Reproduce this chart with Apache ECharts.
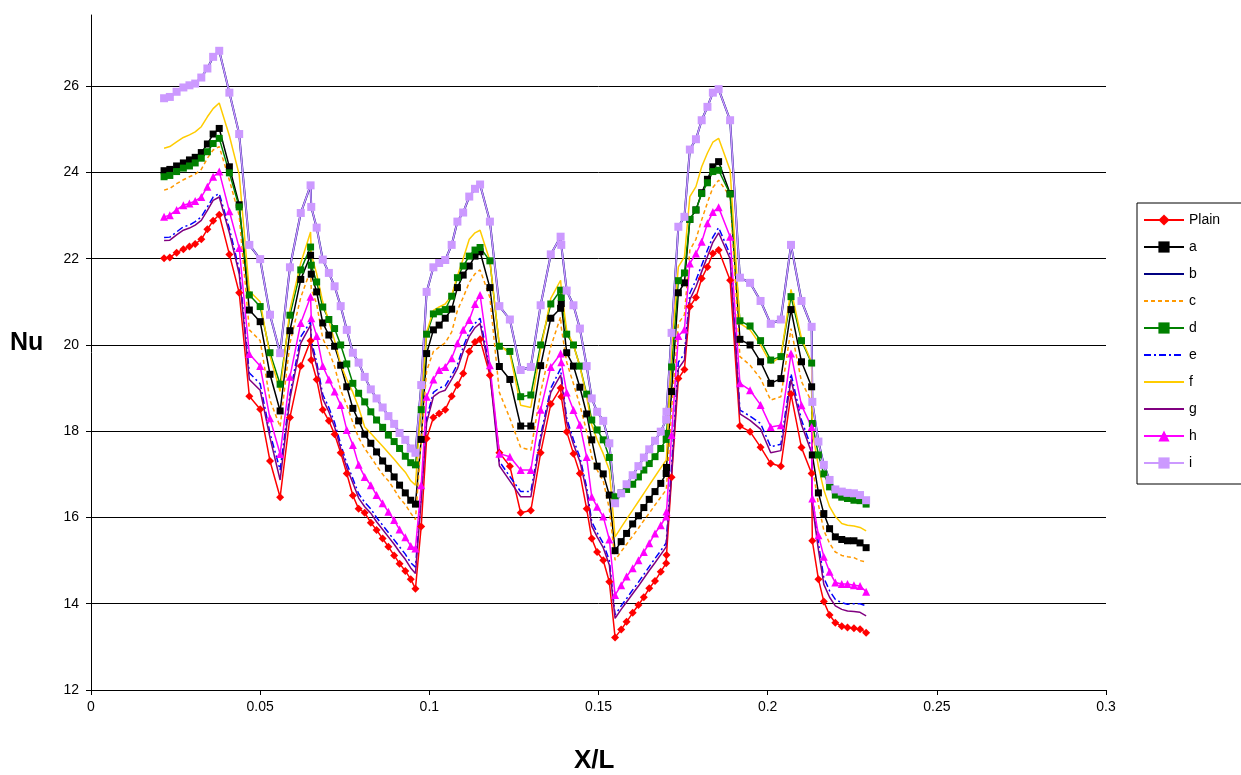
<!DOCTYPE html>
<html>
<head>
<meta charset="utf-8">
<title>Nu vs X/L</title>
<script src="https://cdn.jsdelivr.net/npm/echarts@6.0.0/dist/echarts.min.js"></script>
<style>
  html, body { margin: 0; padding: 0; background: #ffffff; }
  #chart { width: 1241px; height: 775px; }
</style>
</head>
<body>
<div id="chart"></div>
<script>
// X/L stations, shared by every series
var xL = [
  0.0216, 0.0233, 0.0253, 0.0273, 0.0291, 0.0308, 0.0326, 0.0344, 0.0361, 0.0379,
  0.0409, 0.0438, 0.0468, 0.0500, 0.0529, 0.0559, 0.0588, 0.0620, 0.0649, 0.0651,
  0.0667, 0.0685, 0.0703, 0.0720, 0.0738, 0.0756, 0.0774, 0.0791, 0.0809, 0.0827, 0.0844, 0.0862, 0.0879, 0.0896, 0.0912, 0.0929, 0.0945, 0.0959,
  0.0976, 0.0992, 0.1012, 0.1029, 0.1047, 0.1066, 0.1083, 0.1100, 0.1118, 0.1135, 0.1150, 0.1179, 0.1207, 0.1238, 0.1270, 0.1300, 0.1329, 0.1359, 0.1388, 0.1390, 0.1406, 0.1426, 0.1445, 0.1465, 0.1480, 0.1496, 0.1514, 0.1532, 0.1549,
  0.1567, 0.1583, 0.1601, 0.1618, 0.1634, 0.1650, 0.1667, 0.1684, 0.1700, 0.1701,
  0.1716, 0.1736, 0.1754, 0.1770, 0.1788, 0.1805, 0.1822, 0.1838, 0.1855, 0.1889,
  0.1918, 0.1948, 0.1979, 0.2009, 0.2039, 0.2069, 0.2100, 0.2130, 0.2132, 0.2150, 0.2166, 0.2183, 0.2200, 0.2219, 0.2236, 0.2255, 0.2273, 0.2291
];

var nuPlain = [
  22.01, 22.03, 22.14, 22.22, 22.28, 22.34, 22.45, 22.68, 22.88, 23.02,
  22.1, 21.21, 18.81, 18.51, 17.31, 16.47, 18.32, 19.51, 20.1, 19.65,
  19.2, 18.5, 18.24, 17.93, 17.5, 17.02, 16.51, 16.2, 16.11, 15.88, 15.71, 15.51, 15.32, 15.12, 14.93, 14.76, 14.57, 14.35,
  15.79, 17.83, 18.32, 18.41, 18.5, 18.81, 19.07, 19.34, 19.85, 20.07, 20.13, 19.3, 17.5, 17.19, 16.11, 16.16, 17.5, 18.63, 19.0, 18.8, 17.99, 17.48, 17.02, 16.2, 15.51, 15.2, 15.01, 14.51, 13.22,
  13.4, 13.58, 13.79, 13.97, 14.15, 14.36, 14.53, 14.74, 14.94, 15.13,
  16.93, 19.22, 19.43, 20.89, 21.1, 21.54, 21.81, 22.12, 22.2, 21.5,
  18.12, 17.99, 17.63, 17.25, 17.19, 18.86, 17.62, 17.02, 15.46, 14.57, 14.05, 13.74, 13.56, 13.48, 13.45, 13.43, 13.41, 13.33
];

var nuA = [
  24.04, 24.07, 24.15, 24.22, 24.29, 24.35, 24.46, 24.66, 24.89, 25.02,
  24.13, 23.25, 20.81, 20.54, 19.32, 18.47, 20.33, 21.52, 22.08, 21.64,
  21.23, 20.51, 20.23, 19.97, 19.53, 19.03, 18.53, 18.24, 17.93, 17.72, 17.52, 17.31, 17.14, 16.94, 16.75, 16.57, 16.4, 16.31,
  17.81, 19.8, 20.35, 20.46, 20.62, 20.83, 21.33, 21.62, 21.83, 22.06, 22.16, 21.33, 19.5, 19.2, 18.12, 18.12, 19.52, 20.62, 20.85, 20.96, 19.82, 19.51, 19.02, 18.4, 17.8, 17.19, 17.01, 16.52, 15.23,
  15.44, 15.63, 15.85, 16.04, 16.23, 16.42, 16.6, 16.79, 17.02, 17.16,
  18.92, 21.21, 21.44, 22.91, 23.13, 23.53, 23.84, 24.13, 24.25, 23.51,
  20.13, 20.0, 19.61, 19.11, 19.22, 20.82, 19.61, 19.03, 17.45, 16.57, 16.09, 15.74, 15.55, 15.49, 15.46, 15.46, 15.41, 15.3
];

// b runs under i almost everywhere
var nuB = [
  25.72, 25.75, 25.87, 25.97, 26.02, 26.06, 26.2, 26.41, 26.68, 26.82,
  25.85, 24.89, 22.32, 21.99, 20.7, 19.81, 21.8, 23.06, 23.7, 23.2,
  22.72, 21.98, 21.67, 21.36, 20.9, 20.35, 19.82, 19.59, 19.26, 18.97, 18.76, 18.55, 18.35, 18.17, 17.96, 17.8, 17.6, 17.5,
  19.07, 21.23, 21.8, 21.9, 21.97, 22.32, 22.86, 23.07, 23.44, 23.62, 23.72, 22.86, 20.9, 20.59, 19.42, 19.49, 20.92, 22.1, 22.51, 22.32, 21.26, 20.92, 20.38, 19.51, 18.76, 18.45, 18.24, 17.72, 16.33,
  16.56, 16.77, 16.98, 17.19, 17.39, 17.58, 17.78, 17.99, 18.27, 18.45,
  20.28, 22.74, 22.97, 24.53, 24.77, 25.21, 25.52, 25.85, 25.93, 25.21,
  21.56, 21.44, 21.02, 20.49, 20.59, 22.32, 21.02, 20.42, 18.68, 17.76, 17.22, 16.87, 16.65, 16.6, 16.57, 16.56, 16.52, 16.4
];

var nuC = [
  23.59, 23.63, 23.74, 23.83, 23.9, 23.96, 24.07, 24.33, 24.52, 24.6,
  23.82, 23.0, 20.35, 20.1, 18.72, 18.1, 20.04, 21.1, 21.74, 21.3,
  20.95, 20.15, 19.85, 19.5, 18.95, 18.6, 18.2, 17.85, 17.6, 17.4, 17.2, 17.0, 16.85, 16.65, 16.45, 16.3, 16.1, 15.95,
  17.8, 19.4, 19.85, 19.95, 20.05, 20.3, 20.8, 21.1, 21.45, 21.65, 21.74, 21.1, 18.9, 18.3, 17.62, 17.56, 18.9, 19.96, 20.65, 20.4, 19.6, 19.1, 18.6, 18.0, 17.4, 17.1, 16.85, 16.2, 15.01,
  15.21, 15.38, 15.57, 15.75, 15.93, 16.1, 16.29, 16.47, 16.64, 16.7,
  18.5, 20.5, 20.7, 22.2, 22.45, 22.9, 23.3, 23.65, 23.82, 23.44,
  19.73, 19.53, 19.22, 18.72, 18.8, 20.38, 19.15, 18.68, 17.2, 16.3, 15.7, 15.4, 15.2, 15.12, 15.09, 15.07, 15.0, 14.97
];

var nuD = [
  23.9, 23.93, 24.02, 24.1, 24.15, 24.22, 24.33, 24.48, 24.67, 24.79,
  23.99, 23.2, 21.16, 20.89, 19.82, 19.09, 20.69, 21.74, 22.27, 21.85,
  21.46, 20.88, 20.59, 20.38, 20.0, 19.56, 19.11, 18.88, 18.68, 18.45, 18.26, 18.09, 17.91, 17.76, 17.6, 17.42, 17.27, 17.22,
  18.5, 20.25, 20.72, 20.77, 20.82, 21.13, 21.56, 21.83, 22.06, 22.2, 22.26, 21.95, 19.97, 19.85, 18.8, 18.84, 20.0, 20.95, 21.27, 21.1, 20.25, 20.0, 19.51, 18.86, 18.26, 18.03, 17.8, 17.39, 16.48,
  16.57, 16.65, 16.77, 16.94, 17.1, 17.25, 17.41, 17.6, 17.81, 17.95,
  19.49, 21.49, 21.67, 22.91, 23.13, 23.51, 23.76, 24.02, 24.05, 23.5,
  20.56, 20.44, 20.1, 19.65, 19.73, 21.12, 20.1, 19.58, 18.18, 17.45, 17.01, 16.71, 16.52, 16.47, 16.44, 16.4, 16.39, 16.31
];

var nuE = [
  22.49, 22.5, 22.62, 22.74, 22.78, 22.86, 22.97, 23.2, 23.43, 23.51,
  22.7, 21.75, 19.35, 19.1, 17.95, 17.1, 18.85, 20.19, 20.54, 20.1,
  19.6, 18.85, 18.55, 18.2, 17.7, 17.25, 16.9, 16.55, 16.35, 16.2, 16.0, 15.82, 15.65, 15.48, 15.32, 15.15, 14.95, 14.85,
  16.5, 18.3, 18.9, 19.0, 19.05, 19.3, 19.55, 19.95, 20.3, 20.5, 20.62, 19.45, 17.3, 16.95, 16.6, 16.6, 17.9, 19.0, 19.45, 19.3, 18.3, 17.8, 17.4, 16.7, 15.9, 15.65, 15.4, 15.0, 13.74,
  13.95, 14.12, 14.32, 14.5, 14.68, 14.86, 15.05, 15.23, 15.41, 15.45,
  17.2, 19.6, 19.8, 21.2, 21.5, 21.85, 22.2, 22.5, 22.72, 22.1,
  18.49, 18.35, 18.18, 17.64, 17.7, 19.33, 18.26, 17.6, 16.5, 15.4, 14.6, 14.3, 14.1, 14.02, 13.99, 14.0, 14.0, 13.95
];

var nuF = [
  24.56, 24.6, 24.71, 24.81, 24.87, 24.94, 25.06, 25.29, 25.48, 25.61,
  24.85, 23.95, 21.25, 21.0, 19.75, 18.92, 20.81, 21.9, 22.62, 22.1,
  21.65, 21.0, 20.55, 20.1, 19.55, 19.2, 18.9, 18.55, 18.1, 17.95, 17.8, 17.65, 17.5, 17.35, 17.2, 17.05, 16.85, 16.75,
  18.7, 20.3, 20.8, 20.88, 20.95, 21.15, 21.6, 22.0, 22.45, 22.6, 22.66, 21.95, 20.0, 19.8, 18.6, 18.55, 19.9, 21.08, 21.5, 21.3, 20.34, 20.0, 19.5, 18.8, 18.15, 17.8, 17.48, 17.1, 15.55,
  15.77, 15.96, 16.17, 16.37, 16.56, 16.75, 16.95, 17.15, 17.33, 17.4,
  19.9, 21.81, 22.04, 23.44, 23.67, 24.13, 24.45, 24.7, 24.79, 24.05,
  20.5, 20.35, 20.0, 19.57, 19.73, 21.29, 20.15, 19.6, 18.0, 17.18, 16.64, 16.25, 16.02, 15.86, 15.82, 15.8, 15.77, 15.69
];

var nuG = [
  22.42, 22.43, 22.55, 22.66, 22.71, 22.78, 22.89, 23.12, 23.35, 23.43,
  22.6, 21.65, 19.2, 18.95, 17.85, 16.87, 18.75, 20.04, 20.46, 20.0,
  19.5, 18.75, 18.45, 18.1, 17.6, 17.15, 16.8, 16.45, 16.25, 16.1, 15.9, 15.72, 15.55, 15.38, 15.2, 15.03, 14.83, 14.7,
  16.4, 18.2, 18.8, 18.9, 18.95, 19.2, 19.45, 19.85, 20.2, 20.4, 20.5, 19.35, 17.2, 16.85, 16.48, 16.48, 17.8, 18.9, 19.3, 19.2, 18.2, 17.7, 17.3, 16.6, 15.8, 15.55, 15.3, 14.9, 13.66,
  13.87, 14.04, 14.23, 14.41, 14.59, 14.77, 14.95, 15.14, 15.32, 15.36,
  17.0, 19.45, 19.65, 21.05, 21.35, 21.7, 22.05, 22.38, 22.6, 22.0,
  18.4, 18.25, 18.05, 17.5, 17.55, 19.2, 18.15, 17.5, 16.3, 15.25, 14.45, 14.15, 13.95, 13.87, 13.83, 13.82, 13.8, 13.72
];

var nuH = [
  22.97, 23.01, 23.13, 23.24, 23.28, 23.34, 23.43, 23.67, 23.9, 24.02,
  23.1, 22.25, 19.79, 19.51, 18.3, 17.47, 19.26, 20.51, 21.12, 20.62,
  20.21, 19.51, 19.2, 18.92, 18.61, 18.03, 17.68, 17.22, 16.94, 16.75, 16.52, 16.33, 16.13, 15.94, 15.72, 15.54, 15.34, 15.28,
  16.75, 18.8, 19.2, 19.42, 19.49, 19.69, 20.04, 20.35, 20.58, 20.95, 21.16, 19.53, 17.48, 17.41, 17.1, 17.1, 18.5, 19.49, 19.8, 19.6, 18.9, 18.49, 18.15, 17.4, 16.48, 16.25, 16.02, 15.49, 14.2,
  14.43, 14.63, 14.82, 15.01, 15.2, 15.4, 15.63, 15.82, 16.02, 16.14,
  17.91, 20.21, 20.36, 21.89, 22.12, 22.39, 22.82, 23.08, 23.19, 22.51,
  19.11, 18.95, 18.61, 18.1, 18.14, 19.8, 18.6, 18.1, 16.44, 15.59, 15.09, 14.74, 14.49, 14.46, 14.46, 14.43, 14.41, 14.28
];

var nuI = [
  25.72, 25.75, 25.87, 25.97, 26.02, 26.06, 26.2, 26.41, 26.68, 26.82,
  25.85, 24.89, 22.32, 21.99, 20.7, 19.81, 21.8, 23.06, 23.7, 23.2,
  22.72, 21.98, 21.67, 21.36, 20.9, 20.35, 19.82, 19.59, 19.26, 18.97, 18.76, 18.55, 18.35, 18.17, 17.96, 17.8, 17.6, 17.5,
  19.07, 21.23, 21.8, 21.9, 21.97, 22.32, 22.86, 23.07, 23.44, 23.62, 23.72, 22.86, 20.9, 20.59, 19.42, 19.49, 20.92, 22.1, 22.51, 22.32, 21.26, 20.92, 20.38, 19.51, 18.76, 18.45, 18.24, 17.72, 16.33,
  16.56, 16.77, 16.98, 17.19, 17.39, 17.58, 17.78, 17.99, 18.27, 18.45,
  20.28, 22.74, 22.97, 24.53, 24.77, 25.21, 25.52, 25.85, 25.93, 25.21,
  21.56, 21.44, 21.02, 20.49, 20.59, 22.32, 21.02, 20.42, 18.68, 17.76, 17.22, 16.87, 16.65, 16.6, 16.57, 16.56, 16.52, 16.4
];

var seriesNames = ['Plain', 'a', 'b', 'c', 'd', 'e', 'f', 'g', 'h', 'i'];
var yTicks = [12, 14, 16, 18, 20, 22, 24, 26];

function toPoints(ys) {
  return ys.map(function (y, k) { return [xL[k], y]; });
}

function makeSeries(name, ys, color, extra) {
  var s = {
    name: name,
    type: 'line',
    data: toPoints(ys),
    symbol: 'none',
    showAllSymbol: true,
    animation: false,
    lineStyle: { color: color, width: 1.5 },
    itemStyle: { color: color, borderWidth: 0 }
  };
  for (var k in extra) s[k] = extra[k];
  return s;
}

// legend entries: series drawn without markers get no marker in the key either
var plainLineNames = ['b', 'c', 'e', 'f', 'g'];
var legendData = seriesNames.map(function (n) {
  return plainLineNames.indexOf(n) >= 0 ? { name: n, itemStyle: { opacity: 0 } } : { name: n };
});

var font = 'Liberation Sans, Arial, sans-serif';

var chart = echarts.init(document.getElementById('chart'));
var option = {
  backgroundColor: '#ffffff',
  animation: false,
  textStyle: { fontFamily: font },
  grid: { left: 91, right: 135, top: 15, bottom: 85 },
  xAxis: {
    type: 'value',
    min: 0,
    max: 0.3,
    interval: 0.05,
    axisLine: { lineStyle: { color: '#000', width: 1 } },
    axisTick: { show: true, inside: false, length: 5, lineStyle: { color: '#000' } },
    axisLabel: { color: '#000', fontSize: 14, margin: 10, fontFamily: font },
    splitLine: { show: false }
  },
  yAxis: {
    type: 'value',
    min: 12,
    max: 27.65,
    interval: 2,
    axisLine: { show: true, lineStyle: { color: '#000', width: 1 } },
    axisTick: { show: true, inside: false, length: 5, customValues: yTicks, lineStyle: { color: '#000' } },
    axisLabel: {
      color: '#000', fontSize: 14, margin: 12, fontFamily: font, customValues: yTicks,
      formatter: function (v) { return (Math.abs(v % 2) < 1e-6) ? String(v) : ''; }
    },
    splitLine: { show: true, showMinLine: false, showMaxLine: true, lineStyle: { color: '#000', width: 1 } }
  },
  legend: {
    orient: 'vertical',
    left: 1137,
    top: 203,
    data: legendData,
    itemWidth: 40,
    itemHeight: 14,
    itemGap: 13,
    padding: [10, 70, 14, 6],
    borderColor: '#000',
    borderWidth: 1,
    backgroundColor: '#fff',
    textStyle: { color: '#000', fontSize: 14, fontFamily: font }
  },
  graphic: [
    { type: 'text', left: 10, top: 331, style: { text: 'Nu', fontSize: 25, fontWeight: 'bold', fill: '#000', fontFamily: font } },
    { type: 'text', left: 574, top: 748, style: { text: 'X/L', fontSize: 26, fontWeight: 'bold', fill: '#000', fontFamily: font } }
  ],
  series: [
    makeSeries('Plain', nuPlain, '#FF0000', { symbol: 'diamond', symbolSize: 8 }),
    makeSeries('a', nuA, '#000000', { symbol: 'rect', symbolSize: 7 }),
    makeSeries('b', nuB, '#000080', { lineStyle: { color: '#000080', width: 2 } }),
    makeSeries('c', nuC, '#FF9900', { lineStyle: { color: '#FF9900', width: 1.5, type: [4, 3] } }),
    makeSeries('d', nuD, '#008000', { symbol: 'rect', symbolSize: 7 }),
    makeSeries('e', nuE, '#0000FF', { lineStyle: { color: '#0000FF', width: 1.5, type: [7, 3, 2, 3] } }),
    makeSeries('f', nuF, '#FFCC00'),
    makeSeries('g', nuG, '#800080'),
    makeSeries('h', nuH, '#FF00FF', { symbol: 'triangle', symbolSize: 8 }),
    makeSeries('i', nuI, '#CC99FF', { symbol: 'rect', symbolSize: 8 })
  ]
};
chart.setOption(option);
</script>
</body>
</html>
